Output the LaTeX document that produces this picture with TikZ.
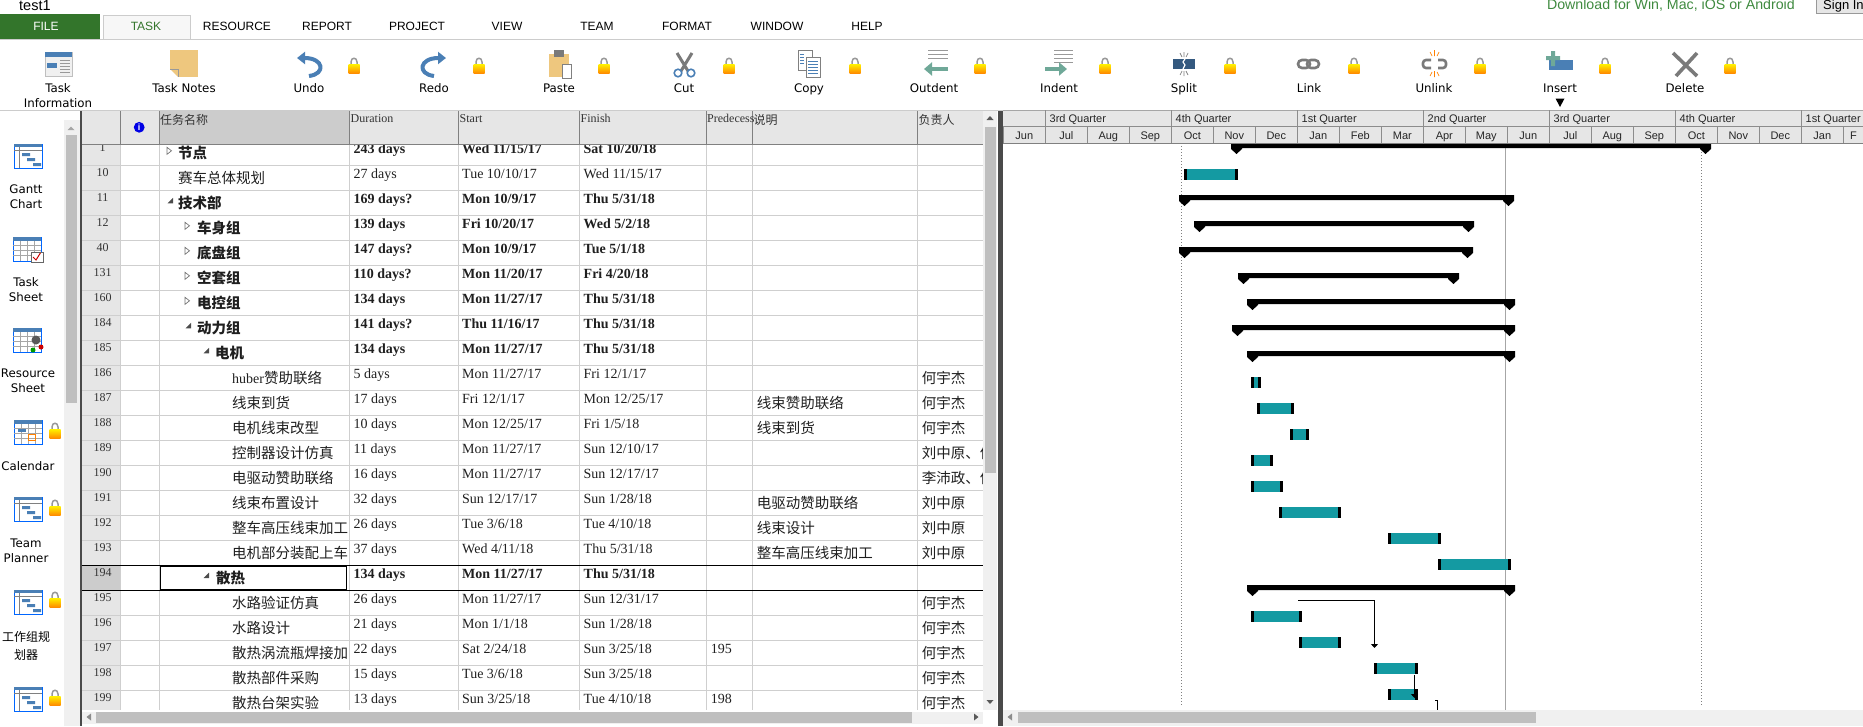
\documentclass[tikz,border=0pt]{standalone}
\usepackage{fontspec}
\setmainfont{Liberation Serif}
\setsansfont{Liberation Sans}
\newfontfamily\cjk{Noto Sans CJK SC}
\newfontfamily\uifont{DejaVu Sans}
\usetikzlibrary{arrows.meta}

\definecolor{filegreen}{HTML}{33752B}
\definecolor{dlgreen}{HTML}{3F8A3F}
\definecolor{barteal}{HTML}{149AA2}
\definecolor{headgray}{HTML}{E6E6E6}
\definecolor{seldark}{HTML}{CCCCCC}
\definecolor{gridgray}{HTML}{CFCFCF}
\definecolor{linegray}{HTML}{808080}
\definecolor{splitdark}{HTML}{4A4A4A}
\definecolor{scrollbg}{HTML}{F0F0F0}
\definecolor{scrollthumb}{HTML}{BFBFBF}
\definecolor{iconblue}{HTML}{4A7FB5}
\definecolor{icontan}{HTML}{EEC77E}
\definecolor{icongray}{HTML}{7A7A7A}
\definecolor{icongreen}{HTML}{6FA898}

\newcommand\zh[1]{{\fontsize{14.5}{17}\selectfont\cjk #1}}

\tikzset{
  rowcell/.style={anchor=base west, inner sep=0pt, text=black!88, font=\fontsize{14}{16}\selectfont},
  numcell/.style={anchor=base, inner sep=0pt, text=black!80, font=\fontsize{12}{14}\selectfont},
  headcell/.style={anchor=base west, inner sep=0pt, text=black!80, font=\fontsize{12}{14}\selectfont},
  tablabel/.style={inner sep=0pt, font=\sffamily\fontsize{12}{14}\selectfont},
  uilabel/.style={inner sep=0pt, align=center, font=\uifont\fontsize{11.8}{15}\selectfont},
  ganttlabel/.style={inner sep=0pt, text=black!85, font=\sffamily\fontsize{11}{13}\selectfont},
  gridline/.style={gridgray, line width=1pt},
  ganttgrid/.style={color=black!45, line width=1pt},
  linkline/.style={black, line width=1pt},
  padlock/.pic={
    \draw[black!40, line width=1.5pt] (-3,1) -- (-3,-2) .. controls (-3,-7) and (3,-7) .. (3,-2) -- (3,1);
    \shade[top color=yellow!90!orange, bottom color=orange!90!yellow] (-5.5,0) rectangle (5.5,9);
  },
  chartwin/.pic={
    \fill[white] (-14,-12) rectangle (14,12);
    \draw[blue!60!cyan, line width=1pt] (-14,-12) rectangle (14,12);
    \fill[iconblue] (-14,-12) rectangle (14,-9);
    \draw[black!50, line width=.6pt] (-9,-9) -- (-9,12) (-14,-6) -- (14,-6);
    \fill[iconblue] (-6,-3) rectangle (2,0) (-1,2) rectangle (7,5) (5,7) rectangle (13,10);
  },
  gridwin/.pic={
    \fill[white] (-14,-12) rectangle (14,12);
    \draw[blue!60!cyan, line width=1pt] (-14,-12) rectangle (14,12);
    \fill[iconblue] (-14,-12) rectangle (14,-8);
    \foreach \gy in {-4,1,6} \draw[black!35, line width=.6pt] (-14,\gy) -- (14,\gy);
    \foreach \gx in {-7,0,7} \draw[black!35, line width=.6pt] (\gx,-8) -- (\gx,12);
  },
}

\begin{document}
\begin{tikzpicture}[x=1pt,y=-1pt]
\useasboundingbox (0,0) rectangle (1863,726);

% task table, body
\fill[headgray] (82,144) rectangle (120,710);
\fill[seldark] (82,565.3) rectangle (120,590.3);
\foreach \i in {1,...,22} \draw[gridline] (82,{140.3+25*\i}) -- (983,{140.3+25*\i});
\foreach \cx in {120,159.3,349.5,458.5,579.3,706.5,752.7,917.5} \draw[gridline] (\cx,144) -- (\cx,710);

\foreach \i/\num/\nx/\fnt/\name/\dur/\st/\fin in {
  0/1/178/\bfseries/\zh{节点}/243 days/{Wed 11/15/17}/{Sat 10/20/18},
  1/10/178/\mdseries/\zh{赛车总体规划}/27 days/{Tue 10/10/17}/{Wed 11/15/17},
  2/11/178/\bfseries/\zh{技术部}/169 days?/{Mon 10/9/17}/{Thu 5/31/18},
  3/12/197/\bfseries/\zh{车身组}/139 days/{Fri 10/20/17}/{Wed 5/2/18},
  4/40/197/\bfseries/\zh{底盘组}/147 days?/{Mon 10/9/17}/{Tue 5/1/18},
  5/131/197/\bfseries/\zh{空套组}/110 days?/{Mon 11/20/17}/{Fri 4/20/18},
  6/160/197/\bfseries/\zh{电控组}/134 days/{Mon 11/27/17}/{Thu 5/31/18},
  7/184/197/\bfseries/\zh{动力组}/141 days?/{Thu 11/16/17}/{Thu 5/31/18},
  8/185/215/\bfseries/\zh{电机}/134 days/{Mon 11/27/17}/{Thu 5/31/18},
  9/186/232/\mdseries/huber\zh{赞助联络}/5 days/{Mon 11/27/17}/{Fri 12/1/17},
  10/187/232/\mdseries/\zh{线束到货}/17 days/{Fri 12/1/17}/{Mon 12/25/17},
  11/188/232/\mdseries/\zh{电机线束改型}/10 days/{Mon 12/25/17}/{Fri 1/5/18},
  12/189/232/\mdseries/\zh{控制器设计仿真}/11 days/{Mon 11/27/17}/{Sun 12/10/17},
  13/190/232/\mdseries/\zh{电驱动赞助联络}/16 days/{Mon 11/27/17}/{Sun 12/17/17},
  14/191/232/\mdseries/\zh{线束布置设计}/32 days/{Sun 12/17/17}/{Sun 1/28/18},
  15/192/232/\mdseries/\zh{整车高压线束加工}/26 days/{Tue 3/6/18}/{Tue 4/10/18},
  16/193/232/\mdseries/\zh{电机部分装配上车}/37 days/{Wed 4/11/18}/{Thu 5/31/18},
  17/194/216/\bfseries/{}/134 days/{Mon 11/27/17}/{Thu 5/31/18},
  18/195/232/\mdseries/\zh{水路验证仿真}/26 days/{Mon 11/27/17}/{Sun 12/31/17},
  19/196/232/\mdseries/\zh{水路设计}/21 days/{Mon 1/1/18}/{Sun 1/28/18},
  20/197/232/\mdseries/\zh{散热涡流瓶焊接加}/22 days/{Sat 2/24/18}/{Sun 3/25/18},
  21/198/232/\mdseries/\zh{散热部件采购}/15 days/{Tue 3/6/18}/{Sun 3/25/18},
  22/199/232/\mdseries/\zh{散热台架实验}/13 days/{Sun 3/25/18}/{Tue 4/10/18}}{
  \pgfmathsetmacro\ytop{140.3+25*\i}
  \node[numcell] (num\i) at (102.6,\ytop+11) {\num};
  \node[rowcell] (name\i) at (\nx,\ytop+18) {\fnt\name};
  \node[rowcell] (dur\i) at (353.5,\ytop+13.5) {\fnt\dur};
  \node[rowcell] (start\i) at (462,\ytop+13.5) {\fnt\st};
  \node[rowcell] (finish\i) at (583.5,\ytop+13.5) {\fnt\fin};
}
\foreach \i/\pre in {20/195,22/198}
  \node[rowcell] (pred\i) at (710.7,{140.3+25*\i+13.5}) {\pre};
\foreach \i/\note in {10/线束赞助联络,11/线束到货,14/电驱动赞助联络,15/线束设计,16/整车高压线束加工}
  \node[rowcell] (note\i) at (756.7,{140.3+25*\i+18}) {\zh{\note}};
\foreach \i/\who in {9/何宇杰,10/何宇杰,11/何宇杰,12/刘中原、何,13/李沛政、何,14/刘中原,15/刘中原,16/刘中原,18/何宇杰,19/何宇杰,20/何宇杰,21/何宇杰,22/何宇杰}
  \node[rowcell] (who\i) at (921.7,{140.3+25*\i+18}) {\zh{\who}};

% outline triangles
\foreach \mx/\i in {169/0,187/3,187/4,187/5,187/6}
  \draw[black!55, line width=.7pt] (\mx-2,{140.3+25*\i+7}) -- (\mx+2.5,{140.3+25*\i+10.5}) -- (\mx-2,{140.3+25*\i+14}) -- cycle;
\foreach \mx/\i in {170/2,188/7,206/8}
  \fill[black!70] (\mx+3,{140.3+25*\i+7.5}) -- (\mx+3,{140.3+25*\i+13}) -- (\mx-2.5,{140.3+25*\i+13}) -- cycle;

% selected row
\draw[black, line width=1pt] (82,565.3) -- (983,565.3) (82,590.3) -- (983,590.3);
\draw[black, line width=1.4pt, fill=white] (160.5,566.5) rectangle (346.5,589.5);
\node[rowcell] (selname) at (216,{565.3+18}) {\bfseries\zh{散热}};
\fill[black!70] (209,572.5) -- (209,578) -- (203.5,578) -- cycle;

% task table, header
\fill[white] (82,110) rectangle (983,111);
\fill[headgray] (82,111) rectangle (983,144);
\fill[seldark] (159.3,111) rectangle (349.5,144);
\foreach \cx in {120,159.3,349.5,458.5,579.3,706.5,752.7,917.5} \draw[linegray, line width=.8pt] (\cx,111) -- (\cx,144);
\draw[linegray, line width=1pt] (82,144) -- (983,144);
\fill[blue!90!black] (139.2,127.3) circle (5.4);
\node[inner sep=0pt, text=white, font=\bfseries\sffamily\fontsize{9}{9}\selectfont] (infomark) at (139.2,127.3) {i};
\node[headcell] (hName) at (160,124.5) {\fontsize{12}{14}\selectfont\cjk 任务名称};
\node[headcell] (hDur) at (350.5,122) {Duration};
\node[headcell] (hStart) at (459.5,122) {Start};
\node[headcell] (hFinish) at (580.5,122) {Finish};
\node[headcell] (hPred) at (707,122) {Predecess};
\node[headcell] (hNote) at (753.5,124.5) {\fontsize{12}{14}\selectfont\cjk 说明};
\node[headcell] (hWho) at (918.5,124.5) {\fontsize{12}{14}\selectfont\cjk 负责人};

% table scrollbars
\fill[white] (983,111) rectangle (998,726);
\fill[scrollbg] (983,111) rectangle (997,710);
\fill[scrollthumb] (985,127) rectangle (996,473);
\fill[black!65] (986.5,120) -- (993.5,120) -- (990,116) -- cycle;
\fill[black!65] (986.5,700) -- (993.5,700) -- (990,704) -- cycle;
\fill[white] (82,710) rectangle (998,726);
\fill[scrollbg] (82,712) rectangle (983,724);
\fill[scrollthumb] (96,712) rectangle (912,723);
\fill[black!45] (91,713.5) -- (91,720.5) -- (86.5,717) -- cycle;
\fill[black!65] (974,713.5) -- (974,720.5) -- (978.5,717) -- cycle;
\fill[splitdark] (998,110) rectangle (1003,726);
\fill[splitdark] (79.7,110) rectangle (81.7,726);

% left panel
\fill[scrollbg] (64,120) rectangle (79.7,726);
\fill[scrollthumb] (66,135) rectangle (77,403);
\fill[black!35] (67.5,130) -- (74.5,130) -- (71,126.5) -- cycle;
\pic (iconGantt) at (28,156) {chartwin};
\node[uilabel] (lblGantt) at (26,196.5) {Gantt\\Chart};
\pic (iconTask) at (27,249) {gridwin};
\fill[white] (31,252) rectangle (43,262);
\draw[red!80!black, line width=1pt] (33,257) -- (36,260) -- (41,252);
\draw[black!60, line width=.6pt] (31,252) rectangle (43,262);
\node[uilabel] (lblTask) at (26,289.5) {Task\\Sheet};
\pic (iconRes) at (27,340) {gridwin};
\fill[black!65] (36,340) circle (4.5);
\fill[red!80!black] (41,347) circle (2.5);
\fill[green!60!black] (33,350) circle (2.5);
\node[uilabel] (lblRes) at (28,380.5) {Resource\\Sheet};
\pic (iconCal) at (28,432) {gridwin};
\fill[iconblue] (18,429) rectangle (26,432);
\draw[orange, line width=1pt] (28,434) rectangle (35,440);
\node[uilabel] (lblCal) at (28,466) {Calendar};
\pic (lockCal) at (55,429) {padlock};
\pic (iconTeam) at (28,509) {chartwin};
\pic (lockTeam) at (55,506) {padlock};
\node[uilabel] (lblTeam) at (26,550.5) {Team\\Planner};
\pic (iconWork) at (28,602) {chartwin};
\pic (lockWork) at (55,598) {padlock};
\node[uilabel, font=\cjk\fontsize{12}{18}\selectfont] (lblWork) at (26,645.5) {工作组规\\划器};
\pic (iconOrg) at (28,699) {chartwin};
\pic (lockOrg) at (55,696) {padlock};

% gantt
\draw[black!50, dotted, line width=1pt] (1181.5,143) -- (1181.5,705);
\draw[black!50, dotted, line width=1pt] (1701.5,143) -- (1701.5,705);
\draw[black!35, line width=1pt] (1505.5,143) -- (1505.5,710);

\foreach \xa/\xb/\yt in {1231/1711/143,1179/1514/195,1194/1474/221,1179/1473/247,1238/1459/273,1247/1515/299,1232/1515/325,1247/1515/351,1247/1515/585}
  \fill[black] (\xa,\yt) -- (\xb,\yt) -- (\xb,\yt+6) -- (\xb-5.5,\yt+11) -- (\xb-11,\yt+6) -- (\xb-11,\yt+5) -- (\xa+11,\yt+5) -- (\xa+11,\yt+6) -- (\xa+5.5,\yt+11) -- (\xa,\yt+6) -- cycle;

\foreach \xa/\xb/\yt in {1184/1238/169,1251/1261/377,1257/1294/403,1290/1309/429,1251/1273/455,1251/1283/481,1279/1341/507,1388/1441/533,1438/1511/559,1251/1302/611,1299/1341/637,1374/1418/663,1388/1418/689}{
  \fill[black] (\xa,\yt) rectangle (\xb,\yt+11);
  \fill[barteal] (\xa+3,\yt) rectangle (\xb-3,\yt+11);
}

\coordinate (link195a) at (1298,600.5);
\coordinate (link195b) at (1374.5,648);
\coordinate (link197a) at (1414.5,675);
\coordinate (link197b) at (1414.5,698);
\coordinate (link198a) at (1435,700.5);
\coordinate (link198b) at (1437.5,710);
\draw[linkline, -{Triangle[width=7pt,length=4pt]}] (link195a) -| (link195b);
\draw[linkline, -{Triangle[width=7pt,length=4pt]}] (link197a) -- (link197b);
\draw[linkline] (link198a) -| (link198b);

% gantt header
\fill[headgray] (1003,110) rectangle (1863,143);
\draw[black!35, line width=1pt] (1003,110.5) -- (1863,110.5);
\draw[black!45, line width=1pt] (1003,126.5) -- (1863,126.5);
\draw[linegray, line width=1pt] (1003,143.5) -- (1863,143.5);
\foreach \k/\qname in {0/3rd Quarter,3/4th Quarter,6/1st Quarter,9/2nd Quarter,12/3rd Quarter,15/4th Quarter,18/1st Quarter}{
  \draw[ganttgrid] ({1045.3+42*\k},110) -- ({1045.3+42*\k},126);
  \node[ganttlabel, anchor=base west] (q\k) at ({1049.5+42*\k},122.5) {\qname};
}
\foreach \k/\mname in {-1/Jun,0/Jul,1/Aug,2/Sep,3/Oct,4/Nov,5/Dec,6/Jan,7/Feb,8/Mar,9/Apr,10/May,11/Jun,12/Jul,13/Aug,14/Sep,15/Oct,16/Nov,17/Dec,18/Jan}{
  \draw[ganttgrid] ({1045.3+42*\k},126) -- ({1045.3+42*\k},143);
  \node[ganttlabel, anchor=base] (m\k) at ({1066.3+42*\k},139) {\mname};
}
\draw[ganttgrid] (1843.3,126) -- (1843.3,143);
\node[ganttlabel, anchor=base west] (mFeb) at (1850,139) {F};

% gantt scrollbar
\fill[scrollbg] (1003,710) rectangle (1863,726);
\fill[scrollthumb] (1018,712) rectangle (1536,723);
\fill[black!45] (1012,713.5) -- (1012,720.5) -- (1007.5,717) -- cycle;

% title and tabs
\node[tablabel, anchor=base west, font=\sffamily\fontsize{14.5}{16}\selectfont] (title) at (19,10) {test1};
\node[tablabel, anchor=base east, text=dlgreen, font=\sffamily\fontsize{14.2}{16}\selectfont] (download) at (1795,9.5) {Download for Win, Mac, iOS or Android};
\draw[black!40, fill=headgray] (1816,-3) rectangle (1870,13.5);
\node[tablabel, anchor=base west, font=\sffamily\fontsize{13}{15}\selectfont] (signin) at (1823,9.5) {Sign In};
\fill[filegreen] (0,14) rectangle (100,39.5);
\node[tablabel, text=white] (tabFile) at (46,26) {FILE};
\draw[black!20, fill=black!3, line width=1pt] (103,39.5) -- (103,15) -- (190,15) -- (190,39.5);
\draw[black!20, line width=1pt] (0,39.5) -- (1863,39.5);
\node[tablabel, text=filegreen] (tabTask) at (146,26) {TASK};
\foreach \tx/\tname in {237/RESOURCE,327/REPORT,417/PROJECT,507/VIEW,597/TEAM,687/FORMAT,777/WINDOW,867/HELP}
  \node[tablabel] (tab\tname) at (\tx,26) {\tname};
\draw[black!20, line width=1pt] (0,110) -- (1003,110);

% toolbar labels
\foreach \tx/\tname/\tid in {184/Task Notes/a,309/Undo/b,434/Redo/c,559/Paste/d,684/Cut/e,809/Copy/f,934/Outdent/g,1059/Indent/h,1184/Split/i,1309/Link/j,1434/Unlink/k,1560/Insert/l,1685/Delete/m}
  \node[uilabel, anchor=base] (btn\tid) at (\tx,92) {\tname};
\node[uilabel] (btnInfo) at (58,95.5) {Task\\Information};
\foreach \lx/\lid in {354/a,479/b,604/c,729/d,855/e,980/f,1105/g,1230/h,1354/i,1480/j,1605/k,1730/m}
  \pic (lock\lid) at (\lx,64) {padlock};
\fill[black] (1555.5,98.5) -- (1564.5,98.5) -- (1560,107) -- cycle;

% toolbar icons
\fill[black!6] (45,52) rectangle (72,76);
\draw[black!25] (45,52) rectangle (72,76);
\fill[iconblue] (45,52) rectangle (72,57);
\fill[iconblue] (47,63) rectangle (57,68);
\foreach \ly in {60,63,66,69,72} \draw[black!40, line width=.7pt] (60,\ly) -- (70,\ly);

\fill[icontan] (170,50) rectangle (197.5,77);
\fill[white] (170,77) -- (170,69) -- (178,77) -- cycle;
\draw[black!40, line width=.6pt] (170,69) -- (178,69) -- (178,77);

\draw[iconblue, line width=4pt, -{Triangle[width=12pt,length=8pt]}] (309,76) .. controls (326,74) and (324,58) .. (297,58);
\draw[iconblue, line width=4pt, -{Triangle[width=12pt,length=8pt]}] (434,76) .. controls (417,74) and (419,58) .. (446,58);

\fill[icontan] (549,54) rectangle (569,77);
\fill[icongray] (554,50) rectangle (564,57);
\draw[black!50, fill=white, line width=.7pt] (562,64) rectangle (571,78);

\draw[icongray, line width=3pt] (677,53) -- (688,71) (692,53) -- (681,71);
\draw[iconblue, line width=1.6pt] (678,73) circle (3.8) (691,73) circle (3.8);

\draw[black!50, fill=white, line width=.7pt] (798,50) rectangle (812,70);
\draw[black!50, fill=white, line width=.7pt] (806,57) rectangle (820,77);
\foreach \ly in {61,64,67,70,73} \draw[iconblue, line width=.8pt] (808,\ly) -- (818,\ly);
\foreach \ly in {54,57,60,63} \draw[iconblue, line width=.8pt] (800,\ly) -- (804,\ly);

\foreach \ly in {50,54,58} \draw[black!40, line width=1pt] (928,\ly) -- (948,\ly);
\draw[icongreen, line width=3.5pt, -{Triangle[width=13pt,length=8pt]}] (948,69) -- (924,69);
\foreach \ly in {50,54,58,62} \draw[black!40, line width=1pt] (1054,\ly) -- (1073,\ly);
\draw[icongreen, line width=3.5pt, -{Triangle[width=13pt,length=8pt]}] (1045,69) -- (1067,69);

\fill[iconblue!70!black] (1173,59) rectangle (1195,69);
\draw[white, line width=1.2pt] (1185,59) -- (1183,62) -- (1185,65) -- (1183,69);
\draw[black!50, line width=.7pt] (1184,52) -- (1184,57) (1180,53) -- (1182,57) (1188,53) -- (1186,57) (1184,71) -- (1184,76) (1180,75) -- (1182,71) (1188,75) -- (1186,71);

\draw[icongray, line width=2.6pt, rounded corners=4pt] (1298,60) rectangle (1310,68);
\draw[icongray, line width=2.6pt, rounded corners=4pt] (1307,60) rectangle (1319,68);

\draw[icongray, line width=2.6pt, rounded corners=3pt] (1431,60) -- (1423,60) -- (1423,68) -- (1431,68);
\draw[icongray, line width=2.6pt, rounded corners=3pt] (1438,60) -- (1446,60) -- (1446,68) -- (1438,68);
\draw[orange, line width=.7pt] (1434.5,50) -- (1434.5,56) (1430,52) -- (1432,56) (1439,52) -- (1437,56) (1434.5,71) -- (1434.5,77) (1430,76) -- (1432,72) (1439,76) -- (1437,72);

\fill[iconblue] (1549,60) rectangle (1573,70);
\fill[icongreen] (1551,51) rectangle (1555,66) (1546,56) rectangle (1560,60);

\draw[icongray, line width=3.6pt] (1673,53) -- (1697,76);
\draw[icongray, line width=3.6pt] (1697,53) -- (1676,76);
\end{tikzpicture}
\end{document}
